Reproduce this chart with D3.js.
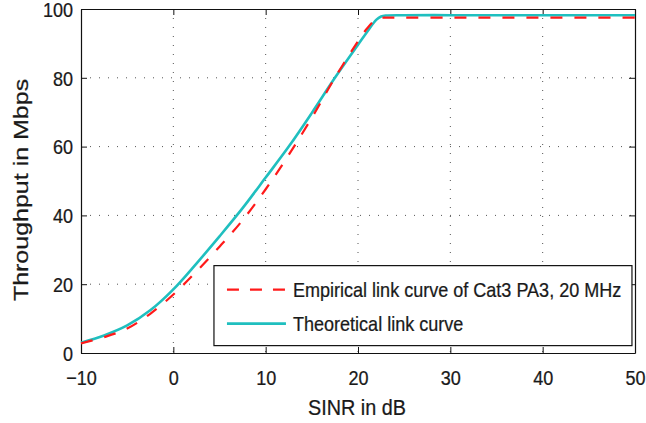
<!DOCTYPE html>
<html>
<head>
<meta charset="utf-8">
<script src="https://d3js.org/d3.v7.min.js"></script>
<style>
  body { margin: 0; background: #fff; }
  text { font-family: Arial, "Liberation Sans", Helvetica, sans-serif; fill: #1a1a1a; stroke: #1a1a1a; stroke-width: 0.25px; }
</style>
</head>
<body>
<div id="chart"></div>
<script>
// SINR (dB) sample points
const sinr = [-10, -7.5, -5, -2.5, 0, 2.5, 5, 7.5, 10, 12.5, 15, 17.5, 20, 21, 22, 22.5, 23, 25, 30, 35, 40, 45, 50];
// Throughput in Mbps
const empirical = [2.8, 4.6, 7.1, 11.4, 17.0, 23.7, 30.9, 38.6, 47.6, 57.6, 68.4, 80.0, 90.6, 94.4, 97.1, 97.4, 97.5, 97.5, 97.5, 97.5, 97.5, 97.5, 97.5];
const theoretical = [3.0, 5.1, 8.0, 12.4, 18.5, 26.0, 33.9, 42.1, 51.0, 60.0, 69.8, 80.0, 89.6, 93.4, 96.9, 97.8, 98.1, 98.2, 98.2, 98.2, 98.2, 98.2, 98.2];
const xTicks = [-10, 0, 10, 20, 30, 40, 50];
const yTicks = [0, 20, 40, 60, 80, 100];
const legendLabels = ["Empirical link curve of Cat3 PA3, 20 MHz", "Theoretical link curve"];

const margin = { top: 9, right: 11, bottom: 70, left: 81 };
const width = 646 - margin.left - margin.right;
const height = 423 - margin.top - margin.bottom;
const squeeze = "scale(0.88,1)"; // text in the picture is narrower than it is tall

const svg = d3.select("#chart")
    .append("svg")
    .attr("width", 646)
    .attr("height", 423)
    .append("g")
    .attr("transform", `translate(${margin.left},${margin.top})`);

const x = d3.scaleLinear().domain([-10, 50]).range([0, width]);
const y = d3.scaleLinear().domain([0, 100]).range([height, 0]);

// dotted grid
svg.append("g")
    .selectAll("line")
    .data(xTicks.slice(1, -1))
    .join("line")
    .attr("x1", d => x(d)).attr("x2", d => x(d))
    .attr("y1", 0).attr("y2", height)
    .attr("stroke", "#555").attr("stroke-width", 1).attr("stroke-dasharray", "1,8");
svg.append("g")
    .selectAll("line")
    .data(yTicks.slice(1, -1))
    .join("line")
    .attr("x1", 0).attr("x2", width)
    .attr("y1", d => y(d)).attr("y2", d => y(d))
    .attr("stroke", "#555").attr("stroke-width", 1).attr("stroke-dasharray", "1,8");

// axes (ticks pointing inward, box all round)
const xAxis = svg.append("g")
    .attr("transform", `translate(0,${height})`)
    .call(d3.axisBottom(x).tickValues(xTicks).tickSizeInner(-6).tickSizeOuter(0));
xAxis.selectAll("text")
    .attr("y", 32).attr("dy", 0)
    .attr("transform", squeeze)
    .style("font-size", "20.5px");

const yAxis = svg.append("g")
    .call(d3.axisLeft(y).tickValues(yTicks).tickSizeInner(-6).tickSizeOuter(0));
yAxis.selectAll("text")
    .attr("x", -9).attr("dy", "0.36em")
    .attr("transform", squeeze)
    .style("font-size", "20.5px");

svg.append("g")
    .call(d3.axisTop(x).tickValues(xTicks).tickSizeInner(-6).tickSizeOuter(0).tickFormat(""));
svg.append("g")
    .attr("transform", `translate(${width},0)`)
    .call(d3.axisRight(y).tickValues(yTicks).tickSizeInner(-6).tickSizeOuter(0).tickFormat(""));

svg.selectAll(".domain").attr("stroke", "#111").attr("stroke-width", 1.2);
svg.selectAll(".tick line").attr("stroke", "#111");

// curves
const line = d3.line()
    .x((d, i) => x(sinr[i]))
    .y(d => y(d))
    .curve(d3.curveCatmullRom.alpha(0.5));

svg.append("path")
    .datum(theoretical)
    .attr("fill", "none")
    .attr("stroke", "#1fbfbf")
    .attr("stroke-width", 2.6)
    .attr("d", line);

svg.append("path")
    .datum(empirical)
    .attr("fill", "none")
    .attr("stroke", "#ff1a1a")
    .attr("stroke-width", 2.2)
    .attr("stroke-dasharray", "12,12")
    .attr("d", line);

// axis labels
svg.append("text")
    .attr("transform", `translate(${width / 2 - 1},${height + 62}) ${squeeze}`)
    .attr("text-anchor", "middle")
    .style("font-size", "22.5px")
    .text("SINR in dB");

svg.append("text")
    .attr("transform", `translate(-53,${height / 2 + 9}) rotate(-90) scale(1.19,1)`)
    .attr("text-anchor", "middle")
    .style("font-size", "21px")
    .text("Throughput in Mbps");

// legend
const legend = svg.append("g")
    .attr("transform", `translate(${x(4.4)},${y(25.4)})`);

legend.append("rect")
    .attr("width", 418).attr("height", 80)
    .attr("fill", "#fff").attr("stroke", "#111").attr("stroke-width", 1.2);

const entries = [
    { label: legendLabels[0], color: "#ff1a1a", dash: "12,11", w: 2.2 },
    { label: legendLabels[1], color: "#1fbfbf", dash: null, w: 2.6 }
];

const item = legend.selectAll(".item")
    .data(entries)
    .join("g")
    .attr("class", "item")
    .attr("transform", (d, i) => `translate(0,${24 + i * 34})`);

item.append("line")
    .attr("x1", 13).attr("x2", 72)
    .attr("stroke", d => d.color)
    .attr("stroke-width", d => d.w)
    .attr("stroke-dasharray", d => d.dash);

item.append("text")
    .attr("transform", `translate(79,7) ${squeeze}`)
    .style("font-size", "20.5px")
    .text(d => d.label);
</script>
</body>
</html>
